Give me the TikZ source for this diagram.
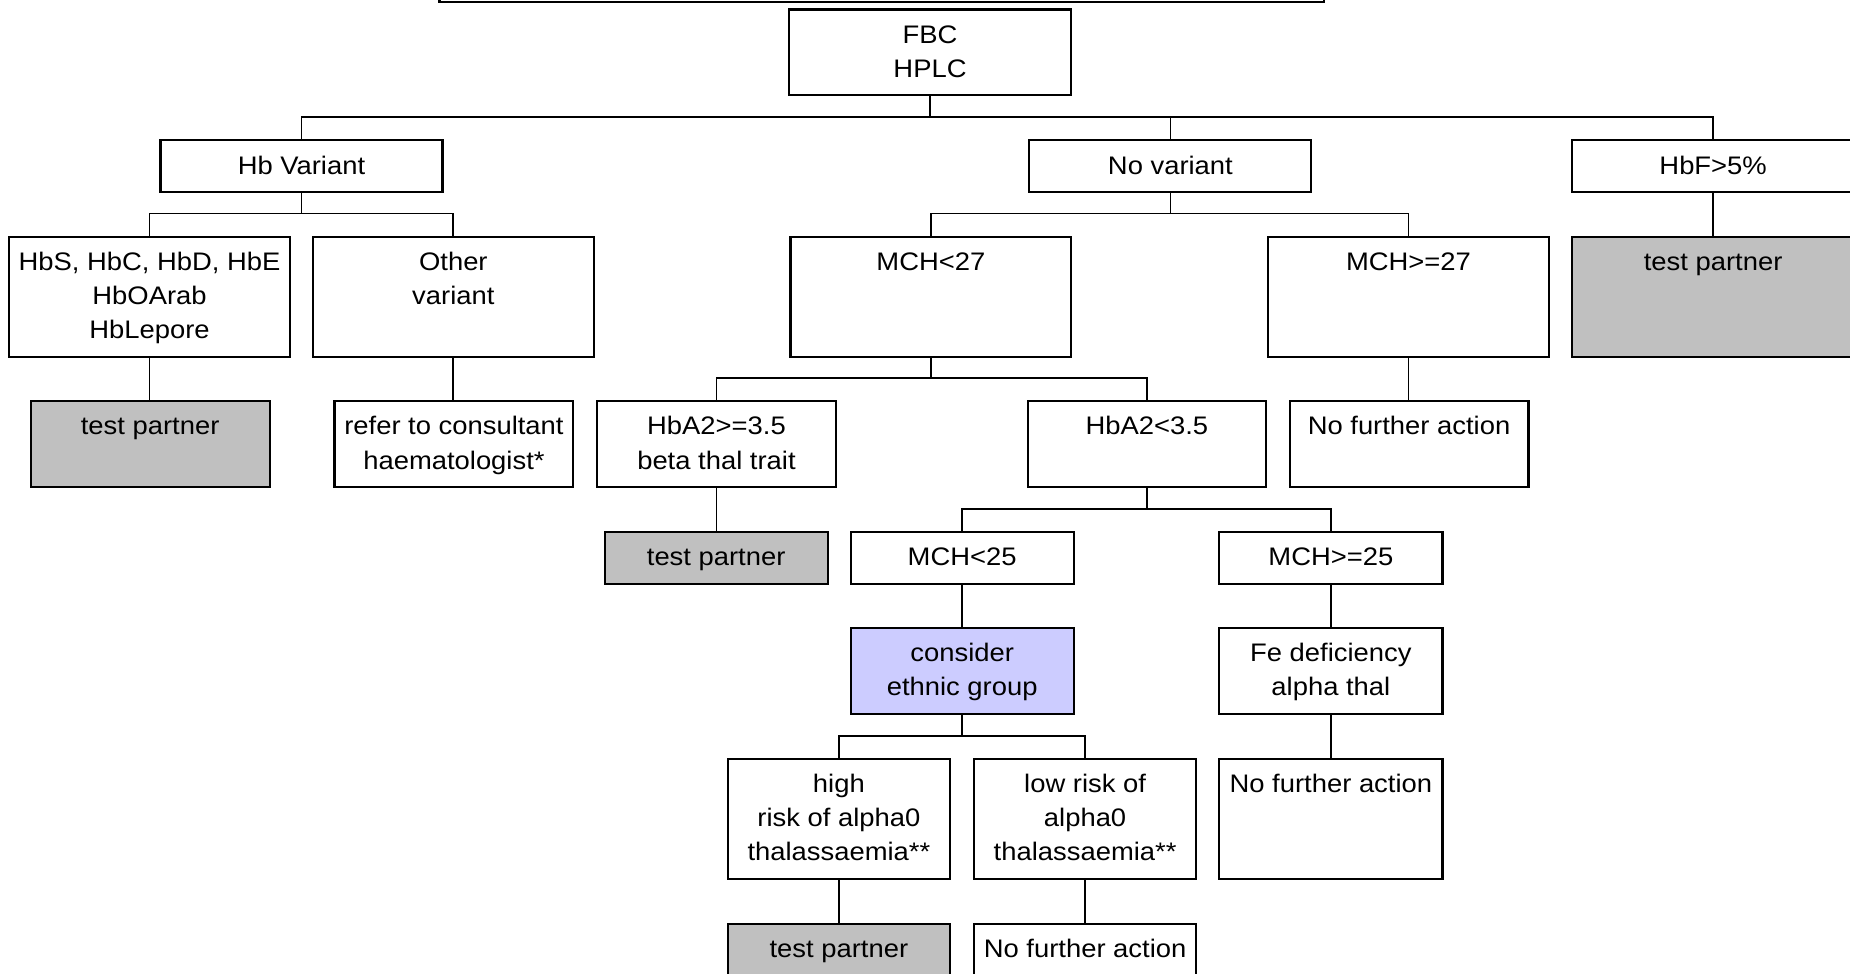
\documentclass[tikz,border=0pt]{standalone}
\usepackage{fontspec}
\setmainfont{Liberation Sans}[FakeStretch=1.08]
\usetikzlibrary{calc}
\definecolor{boxgrey}{RGB}{192,192,192}
\definecolor{lavender}{RGB}{204,204,255}
\tikzset{
  bx/.style 2 args={draw, line width=1.8pt, inner sep=0pt, outer sep=0pt, anchor=north,
    minimum width=#1, minimum height=#2,
    execute at begin node={\begin{minipage}[b][#2][t]{#1}\centering\fontsize{21.5}{29}\selectfont\rule{0pt}{28.5pt}\ignorespaces},
    execute at end node={\end{minipage}}},
  grey/.style={fill=boxgrey},
  lav/.style={fill=lavender},
  conn/.style={draw, line width=1.5pt}
}
\begin{document}
\begin{tikzpicture}[x=1pt,y=1pt]
\path[use as bounding box, fill=white] (0,0) rectangle (1568,-825.5);
% boxes
\node[bx={749.5pt}{60pt}] (head) at (747.25,58.6) {};
\node[bx={238.5pt}{72.5pt}] (fbc) at (788.25,-8) {FBC\\HPLC};
\node[bx={239pt}{43.5pt}] (hbv) at (255.5,-119) {Hb Variant};
\node[bx={239pt}{43.5pt}] (nov) at (992,-119) {No variant};
\node[bx={239pt}{43.5pt}] (hbf) at (1452,-119) {HbF>5\%};
\node[bx={238.5pt}{101.7pt}] (hbs) at (126.75,-200.6) {HbS, HbC, HbD, HbE\\HbOArab\\HbLepore};
\node[bx={238.5pt}{101.7pt}] (oth) at (384.25,-200.6) {Other\\variant};
\node[bx={238pt}{101.7pt}] (m27) at (789,-200.6) {MCH<27};
\node[bx={237.5pt}{101.7pt}] (m27b) at (1193.75,-200.6) {MCH>=27};
\node[bx={239pt}{101.7pt}, grey] (hbftp) at (1452,-200.6) {test partner};
\node[bx={202.5pt}{72.5pt}, grey] (hbstp) at (127.25,-340) {test partner};
\node[bx={202.5pt}{72.5pt}] (refer) at (384.75,-340) {refer to consultant\\haematologist*};
\node[bx={202.5pt}{72.5pt}] (a2hi) at (607.25,-340) {HbA2>=3.5\\beta thal trait};
\node[bx={202pt}{72.5pt}] (a2lo) at (972,-340) {HbA2<3.5};
\node[bx={202.5pt}{72.5pt}] (nfa1) at (1194.25,-340) {No further action};
\node[bx={189.2pt}{44.6pt}, grey] (tp3) at (607,-450.6) {test partner};
\node[bx={189pt}{44.6pt}] (m25) at (815.5,-450.6) {MCH<25};
\node[bx={189.2pt}{44.6pt}] (m25b) at (1128,-450.6) {MCH>=25};
\node[bx={189pt}{73pt}, lav] (cons) at (815.5,-532) {consider\\ethnic group};
\node[bx={189.2pt}{73pt}] (fe) at (1128,-532) {Fe deficiency\\alpha thal};
\node[bx={188.7pt}{101.7pt}] (high) at (711,-643) {high\\risk of alpha0\\thalassaemia**};
\node[bx={188.6pt}{101.7pt}] (low) at (919.7,-643) {low risk of\\alpha0\\thalassaemia**};
\node[bx={189.2pt}{101.7pt}] (nfa2) at (1128,-643) {No further action};
\node[bx={188.7pt}{72.5pt}, grey] (tp4) at (711,-783) {test partner};
\node[bx={188.6pt}{72.5pt}] (nfa3) at (919.7,-783) {No further action};
% bus levels
\coordinate (busA) at (0,-99.4);
\coordinate (busB) at (0,-181);
\coordinate (busC) at (0,-320.6);
\coordinate (busD) at (0,-431.4);
\coordinate (busE) at (0,-624);
% connectors
\draw[conn] (fbc.south) -- (fbc.south |- busA);
\draw[conn] (hbv.north) |- (busA -| hbf.north) -- (hbf.north);
\draw[conn] (nov.north) -- (nov.north |- busA);
\draw[conn] (hbv.south) -- (hbv.south |- busB);
\draw[conn] (hbs.north) |- (busB -| oth.north) -- (oth.north);
\draw[conn] (nov.south) -- (nov.south |- busB);
\draw[conn] (m27.north) |- (busB -| m27b.north) -- (m27b.north);
\draw[conn] (hbf.south) -- (hbftp.north);
\draw[conn] (hbs.south) -- (hbs.south |- hbstp.north);
\draw[conn] (oth.south) -- (oth.south |- refer.north);
\draw[conn] (m27.south) -- (m27.south |- busC);
\draw[conn] (a2hi.north) |- (busC -| a2lo.north) -- (a2lo.north);
\draw[conn] (m27b.south) -- (m27b.south |- nfa1.north);
\draw[conn] (a2hi.south) -- (a2hi.south |- tp3.north);
\draw[conn] (a2lo.south) -- (a2lo.south |- busD);
\draw[conn] (m25.north) |- (busD -| m25b.north) -- (m25b.north);
\draw[conn] (m25.south) -- (cons.north);
\draw[conn] (m25b.south) -- (fe.north);
\draw[conn] (cons.south) -- (cons.south |- busE);
\draw[conn] (high.north) |- (busE -| low.north) -- (low.north);
\draw[conn] (fe.south) -- (nfa2.north);
\draw[conn] (high.south) -- (tp4.north);
\draw[conn] (low.south) -- (nfa3.north);
\end{tikzpicture}
\end{document}
